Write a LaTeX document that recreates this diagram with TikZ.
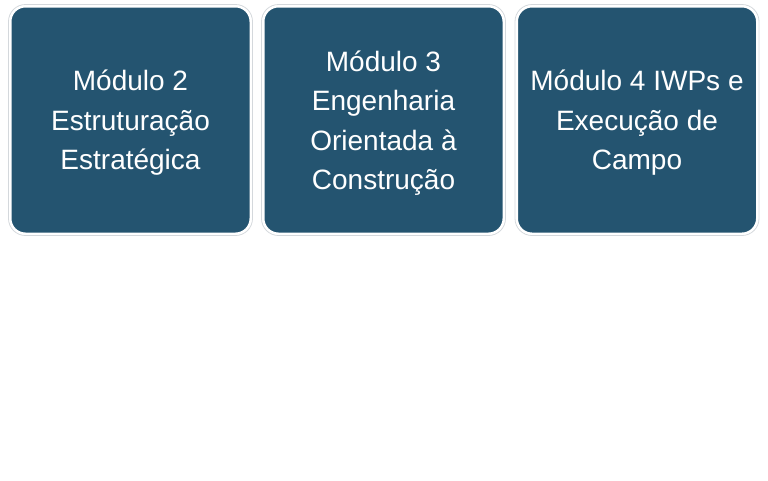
\documentclass[tikz,border=0pt]{standalone}
\usepackage{fontspec}
\setmainfont{Liberation Sans}
\definecolor{boxblue}{HTML}{245470}
\definecolor{rimgray}{HTML}{D4D8DC}
\begin{document}
\begin{tikzpicture}[x=1pt,y=-1pt,
  modbox/.style={rectangle, rounded corners=15pt, fill=boxblue, draw=white, line width=2pt,
    minimum width=240pt, minimum height=227pt},
  modtext/.style={text=white, align=center,
    font=\fontsize{28}{39.5}\selectfont},
  rim/.style={rectangle, rounded corners=17pt, draw=rimgray, line width=0.8pt,
    minimum width=244pt, minimum height=231pt}]
\useasboundingbox (0,0) rectangle (768,480);
\node[rim] at (130.5,120) {};
\node[rim] at (383.5,120) {};
\node[rim] at (637,120) {};
\node[modbox] (b2) at (130.5,120) {};
\node[modbox] (b3) at (383.5,120) {};
\node[modbox] (b4) at (637,120) {};
\node[modtext] (m2) at ([yshift=-3pt]b2.center) {Módulo 2\\Estruturação\\Estratégica};
\node[modtext] (m3) at ([yshift=-3pt]b3.center) {Módulo 3\\Engenharia\\Orientada à\\Construção};
\node[modtext] (m4) at ([yshift=-3pt]b4.center) {Módulo 4 IWPs e\\Execução de\\Campo};
\end{tikzpicture}
\end{document}
